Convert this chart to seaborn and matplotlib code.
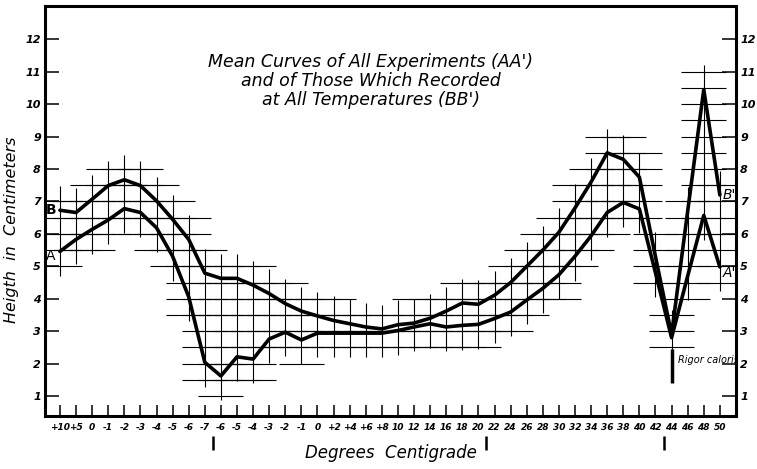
import matplotlib

matplotlib.use("Agg")

import matplotlib.pyplot as plt
import numpy as np
import pandas as pd
import seaborn as sns


# Degrees centigrade, as written under the axis (cooling, then warming)
TEMPERATURE_LABELS = [
    "+10", "+5", "0", "-1", "-2", "-3", "-4", "-5", "-6", "-7",
    "-6", "-5", "-4", "-3", "-2", "-1", "0", "+2", "+4", "+6", "+8",
    "10", "12", "14", "16", "18", "20", "22", "24", "26", "28", "30",
    "32", "34", "36", "38", "40", "42", "44", "46", "48", "50",
]

# Mean curve of all experiments (A -> A')
CURVE_A = [
    5.46, 5.83, 6.14, 6.43, 6.78, 6.66, 6.19, 5.31, 4.06, 2.04,
    1.62, 2.21, 2.14, 2.76, 2.97, 2.73, 2.94, 2.94, 2.94, 2.94, 2.94,
    3.02, 3.13, 3.23, 3.13, 3.18, 3.21, 3.39, 3.59, 3.96, 4.32, 4.74,
    5.31, 5.94, 6.66, 6.97, 6.77, 4.80, 2.80, 4.70, 6.57, 4.98,
]

# Mean curve of those recorded at all temperatures (B -> B')
CURVE_B = [
    6.73, 6.66, 7.07, 7.49, 7.67, 7.49, 7.02, 6.45, 5.83, 4.79,
    4.63, 4.63, 4.42, 4.16, 3.85, 3.62, 3.47, 3.33, 3.23, 3.13, 3.07,
    3.20, 3.25, 3.40, 3.62, 3.87, 3.83, 4.11, 4.50, 5.00, 5.50, 6.05,
    6.80, 7.60, 8.50, 8.30, 7.75, 5.30, 2.90, 6.70, 10.45, 7.20,
]

Y_TICKS = list(range(1, 13))

# section marks drawn under the axis, between two readings
SECTION_MARKS = [9.5, 26.5, 37.5]
RIGOR_POSITION = 38

GRID_MARGIN = 0.75
GRID_STEP = 0.5
GRID_REACH = 1.4
INK = "black"


def build_curves() -> pd.DataFrame:
    """
    Met les deux courbes au format long pour seaborn.
    """
    positions = np.arange(len(TEMPERATURE_LABELS))
    frames = []
    for name, values in (("AA'", CURVE_A), ("BB'", CURVE_B)):
        frames.append(pd.DataFrame({"position": positions, "height": values, "curve": name}))
    return pd.concat(frames, ignore_index=True)


def draw_construction_grid(ax) -> None:
    """
    Quadrillage dessiné seulement autour des courbes, comme sur l'original.
    """
    positions = np.arange(len(TEMPERATURE_LABELS))
    curve_a = np.array(CURVE_A)
    curve_b = np.array(CURVE_B)
    low = np.minimum(curve_a, curve_b) - GRID_MARGIN
    high = np.maximum(curve_a, curve_b) + GRID_MARGIN

    ax.vlines(positions, low, high, color=INK, lw=0.8, zorder=1)

    for level in np.arange(1.0, 11.5, GRID_STEP):
        inside = positions[(low <= level) & (level <= high)]
        if len(inside) == 0:
            continue
        ax.hlines(np.full(len(inside), level), inside - GRID_REACH, inside + GRID_REACH,
                  color=INK, lw=0.8, zorder=1)


def main() -> None:
    sns.set_theme(style="white")
    plt.rcParams["font.family"] = ["DejaVu Sans"]
    plt.rcParams["text.color"] = INK
    plt.rcParams["axes.labelcolor"] = INK
    plt.rcParams["xtick.color"] = INK
    plt.rcParams["ytick.color"] = INK

    fig = plt.figure(figsize=(7.57, 4.69), dpi=100)
    ax = fig.add_axes([0.0594, 0.112, 0.9128, 0.876])

    draw_construction_grid(ax)

    sns.lineplot(
        data=build_curves(),
        x="position",
        y="height",
        hue="curve",
        palette={"AA'": INK, "BB'": INK},
        linewidth=2.6,
        legend=False,
        ax=ax,
        zorder=3,
    )

    ax.set_xlim(-0.93, 42.0)
    ax.set_ylim(0.37, 13.04)

    ax.set_xticks(range(len(TEMPERATURE_LABELS)))
    ax.set_xticklabels(TEMPERATURE_LABELS, fontsize=6.5, fontstyle="italic", fontweight="bold")
    ax.set_yticks(Y_TICKS)
    ax.set_yticklabels([str(v) for v in Y_TICKS], fontsize=8, fontstyle="italic", fontweight="bold")

    ax.tick_params(axis="x", direction="in", length=8, width=1.1, pad=5, bottom=True)
    ax.tick_params(axis="y", direction="in", length=10, width=1.1, pad=3,
                   left=True, right=True, labelleft=True, labelright=True)

    for spine in ax.spines.values():
        spine.set_linewidth(2.2)
        spine.set_color(INK)

    ax.set_xlabel("Degrees  Centigrade", fontsize=12, fontstyle="italic", labelpad=8)
    ax.set_ylabel("Heigth  in  Centimeters", fontsize=11.5, fontstyle="italic")
    ax.yaxis.set_label_coords(-0.038, 0.455)

    ax.text(
        0.49, 0.827,
        "Mean Curves of All Experiments (AA')\nand of Those Which Recorded\nat All Temperatures (BB')",
        transform=fig.transFigure,
        ha="center", va="center",
        fontsize=12.5, fontstyle="italic", linespacing=1.05,
    )

    # lettres des courbes
    ax.text(-0.55, CURVE_B[0], "B", ha="center", va="center", fontsize=10, fontweight="bold", zorder=4)
    ax.text(-0.55, CURVE_A[0] - 0.15, "A", ha="center", va="center", fontsize=10, zorder=4)
    ax.text(41.6, CURVE_B[-1], "B'", ha="center", va="center", fontsize=10, fontstyle="italic", zorder=4)
    ax.text(41.6, CURVE_A[-1] - 0.2, "A'", ha="center", va="center", fontsize=10, fontstyle="italic", zorder=4)

    # rigor caloris
    ax.vlines(RIGOR_POSITION, 1.4, 2.45, color=INK, lw=2.5, zorder=3)
    ax.text(RIGOR_POSITION + 0.4, 2.1, "Rigor caloris", ha="left", va="center",
            fontsize=7, fontstyle="italic", clip_on=True)

    for mark in SECTION_MARKS:
        ax.vlines(mark, -0.66, -0.22, color=INK, lw=1.8, clip_on=False)

    fig.savefig("out.png", dpi=100)
    plt.close(fig)


if __name__ == "__main__":
    main()
